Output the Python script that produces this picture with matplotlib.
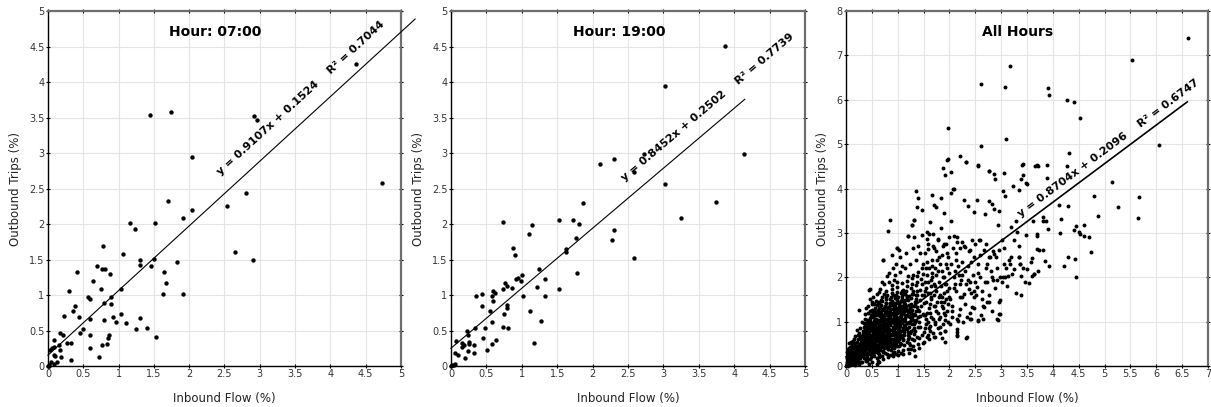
import matplotlib
matplotlib.use("Agg")
import matplotlib.pyplot as plt
import numpy as np
from matplotlib.ticker import FuncFormatter, MultipleLocator

# Hour 07:00 -> (inbound flow %, outbound trips %)
h07_points = [
    (1.45, 3.53), (1.74, 3.58), (2.92, 3.52), (2.96, 3.46), (4.36, 4.26), (4.73, 2.58),
    (2.04, 2.94), (1.70, 2.33), (1.91, 2.08), (2.04, 2.20), (2.53, 2.25), (2.81, 2.44),
    (2.65, 1.61), (2.90, 1.49), (1.16, 2.02), (1.23, 1.93), (1.51, 2.01), (0.78, 1.69),
    (1.06, 1.58), (1.50, 1.51), (1.31, 1.49), (1.30, 1.42), (1.46, 1.41), (1.83, 1.47),
    (1.64, 1.33), (1.67, 1.17), (1.63, 1.01), (1.91, 1.02), (0.41, 1.33), (0.69, 1.41),
    (0.76, 1.36), (0.81, 1.36), (0.64, 1.20), (0.88, 1.29), (0.30, 1.06), (0.75, 1.08),
    (0.57, 0.97), (0.60, 0.94), (0.89, 0.97), (1.03, 1.08), (0.79, 0.89), (0.89, 0.87),
    (0.38, 0.84), (0.36, 0.77), (0.23, 0.71), (0.44, 0.69), (0.59, 0.66), (0.80, 0.65),
    (0.92, 0.69), (1.03, 0.73), (0.97, 0.62), (1.10, 0.60), (1.31, 0.67), (1.24, 0.52),
    (1.40, 0.53), (1.53, 0.41), (0.49, 0.52), (0.46, 0.47), (0.59, 0.43), (0.87, 0.43),
    (0.85, 0.40), (0.83, 0.31), (0.77, 0.30), (0.59, 0.26), (0.73, 0.12), (0.17, 0.46),
    (0.21, 0.44), (0.09, 0.37), (0.27, 0.33), (0.33, 0.33), (0.15, 0.29), (0.09, 0.27),
    (0.06, 0.25), (0.03, 0.23), (0.17, 0.22), (0.08, 0.15), (0.10, 0.14), (0.19, 0.12),
    (0.33, 0.09), (0.04, 0.05), (0.13, 0.05), (0.08, 0.03), (0.01, 0.01), (0.00, 0.00),
    (0.02, 0.00),
]

# Hour 19:00
h19_points = [
    (3.87, 4.51), (3.02, 3.95), (4.14, 2.99), (3.75, 2.31), (3.25, 2.08), (3.02, 2.57),
    (2.58, 1.52), (2.72, 2.98), (2.58, 2.73), (2.30, 2.92), (2.11, 2.84), (2.30, 1.92),
    (2.27, 1.78), (1.86, 2.30), (1.72, 2.06), (1.81, 2.00), (1.53, 2.06), (1.76, 1.80),
    (1.62, 1.65), (1.62, 1.61), (1.78, 1.31), (1.52, 1.08), (0.73, 2.03), (1.15, 1.99),
    (1.10, 1.86), (0.87, 1.66), (0.91, 1.56), (1.25, 1.37), (1.01, 1.28), (0.99, 1.20),
    (0.92, 1.22), (0.94, 1.24), (1.33, 1.23), (0.76, 1.17), (0.79, 1.13), (0.73, 1.09),
    (0.86, 1.10), (1.21, 1.12), (0.59, 1.06), (0.62, 1.03), (0.58, 0.98), (0.44, 1.01),
    (0.35, 0.98), (1.02, 0.98), (1.33, 0.98), (0.60, 0.91), (0.44, 0.85), (0.79, 0.86),
    (0.79, 0.82), (0.55, 0.78), (1.12, 0.78), (0.75, 0.73), (0.58, 0.62), (1.27, 0.64),
    (0.73, 0.55), (0.80, 0.54), (0.34, 0.54), (0.48, 0.53), (0.23, 0.49), (0.24, 0.44),
    (0.45, 0.40), (0.64, 0.36), (0.58, 0.31), (1.17, 0.33), (0.07, 0.35), (0.15, 0.32),
    (0.18, 0.30), (0.25, 0.34), (0.25, 0.31), (0.33, 0.29), (0.15, 0.27), (0.51, 0.22),
    (0.24, 0.21), (0.06, 0.18), (0.10, 0.16), (0.32, 0.18), (0.20, 0.11), (0.04, 0.02),
    (0.02, 0.01), (0.05, 0.03), (0.00, 0.00),
]

# All hours: dense core near the origin
all_core = [
    (0.00, 0.00), (0.01, 0.02), (0.02, 0.05), (0.03, 0.01), (0.04, 0.12), (0.05, 0.08),
    (0.06, 0.21), (0.07, 0.03), (0.08, 0.15), (0.09, 0.28), (0.02, 0.17), (0.05, 0.34),
    (0.08, 0.43), (0.03, 0.24), (0.06, 0.52), (0.09, 0.06), (0.04, 0.39), (0.07, 0.11),
    (0.01, 0.09), (0.10, 0.22), (0.09, 0.55), (0.02, 0.31), (0.06, 0.16), (0.03, 0.07),
    (0.08, 0.36), (0.01, 0.04), (0.04, 0.02), (0.05, 0.19), (0.07, 0.29), (0.10, 0.12),
    (0.11, 0.05), (0.12, 0.18), (0.13, 0.31), (0.14, 0.42), (0.15, 0.09), (0.16, 0.23),
    (0.17, 0.37), (0.18, 0.51), (0.19, 0.14), (0.11, 0.27), (0.13, 0.57), (0.15, 0.62),
    (0.17, 0.03), (0.12, 0.47), (0.14, 0.11), (0.16, 0.33), (0.18, 0.25), (0.19, 0.44),
    (0.20, 0.07), (0.20, 0.31), (0.13, 0.38), (0.17, 0.19), (0.15, 0.48), (0.18, 0.68),
    (0.12, 0.09), (0.21, 0.12), (0.22, 0.28), (0.23, 0.45), (0.24, 0.61), (0.25, 0.75),
    (0.26, 0.05), (0.27, 0.20), (0.28, 0.38), (0.29, 0.52), (0.30, 0.67), (0.21, 0.82),
    (0.23, 0.16), (0.25, 0.33), (0.27, 0.49), (0.29, 0.10), (0.22, 0.55), (0.24, 0.24),
    (0.26, 0.41), (0.28, 0.86), (0.30, 0.30), (0.25, 1.27), (0.21, 0.40), (0.27, 0.64),
    (0.29, 0.27), (0.23, 0.71), (0.26, 0.18), (0.31, 0.08), (0.32, 0.22), (0.33, 0.37),
    (0.34, 0.50), (0.35, 0.66), (0.36, 0.81), (0.37, 0.95), (0.38, 0.14), (0.39, 0.30),
    (0.40, 0.45), (0.31, 0.58), (0.33, 0.72), (0.35, 0.88), (0.37, 1.05), (0.39, 0.60),
    (0.32, 0.42), (0.34, 0.18), (0.36, 0.33), (0.38, 0.75), (0.40, 0.90), (0.31, 1.00),
    (0.36, 1.18), (0.33, 0.28), (0.37, 0.52), (0.39, 0.11), (0.35, 0.40), (0.40, 0.25),
    (0.38, 1.30), (0.34, 0.98), (0.41, 0.12), (0.42, 0.28), (0.43, 0.44), (0.44, 0.60),
    (0.45, 0.77), (0.46, 0.93), (0.47, 1.08), (0.48, 1.24), (0.49, 0.20), (0.50, 0.36),
    (0.41, 0.52), (0.43, 0.68), (0.45, 0.84), (0.47, 1.01), (0.49, 1.16), (0.42, 1.35),
    (0.44, 1.71), (0.47, 1.73), (0.46, 0.15), (0.48, 0.55), (0.50, 0.70), (0.41, 0.98),
    (0.43, 1.20), (0.45, 0.30), (0.47, 0.47), (0.49, 0.82), (0.50, 1.44), (0.44, 0.05),
    (0.46, 1.52), (0.42, 0.88), (0.48, 0.38), (0.51, 0.10), (0.52, 0.26), (0.53, 0.43),
    (0.54, 0.58), (0.55, 0.74), (0.56, 0.91), (0.57, 1.06), (0.58, 1.22), (0.59, 1.37),
    (0.60, 0.18), (0.51, 0.34), (0.52, 0.50), (0.53, 0.66), (0.54, 0.83), (0.55, 0.98),
    (0.56, 1.14), (0.57, 1.30), (0.58, 1.46), (0.59, 0.62), (0.60, 0.78), (0.51, 0.94),
    (0.52, 1.10), (0.53, 1.56), (0.55, 0.22), (0.57, 0.38), (0.58, 0.70), (0.60, 1.00),
    (0.54, 1.25), (0.56, 0.46), (0.59, 0.05), (0.60, 1.62), (0.52, 0.72), (0.57, 0.86),
    (0.55, 1.40), (0.61, 0.12), (0.62, 0.30), (0.63, 0.48), (0.64, 0.66), (0.65, 0.84),
    (0.66, 1.02), (0.67, 1.20), (0.68, 1.38), (0.69, 1.56), (0.70, 0.22), (0.61, 0.40),
    (0.62, 0.58), (0.63, 0.76), (0.64, 0.94), (0.65, 1.12), (0.66, 1.30), (0.67, 1.48),
    (0.68, 0.50), (0.69, 0.68), (0.70, 0.86), (0.61, 1.04), (0.62, 1.22), (0.63, 1.66),
    (0.64, 0.20), (0.66, 0.36), (0.68, 0.92), (0.70, 1.10), (0.65, 1.74), (0.67, 0.60),
    (0.69, 1.28), (0.72, 2.38), (0.70, 1.90), (0.63, 0.08), (0.66, 0.80), (0.62, 1.45),
    (0.71, 0.16), (0.72, 0.34), (0.73, 0.52), (0.74, 0.70), (0.75, 0.88), (0.76, 1.06),
    (0.77, 1.24), (0.78, 1.42), (0.79, 1.60), (0.80, 0.26), (0.71, 0.44), (0.72, 0.62),
    (0.73, 0.80), (0.74, 0.98), (0.75, 1.16), (0.76, 1.34), (0.77, 1.52), (0.78, 1.70),
    (0.79, 0.54), (0.80, 0.72), (0.71, 0.90), (0.72, 1.08), (0.73, 1.26), (0.74, 1.85),
    (0.76, 0.30), (0.78, 0.96), (0.80, 1.14), (0.75, 0.60), (0.77, 0.42), (0.79, 1.32),
    (0.73, 1.62), (0.80, 2.02), (0.76, 0.78), (0.81, 0.20), (0.82, 0.38), (0.83, 0.56),
    (0.84, 0.74), (0.85, 0.92), (0.86, 1.10), (0.87, 1.28), (0.88, 1.46), (0.89, 1.64),
    (0.90, 0.30), (0.81, 0.48), (0.82, 0.66), (0.83, 0.84), (0.84, 1.02), (0.85, 1.20),
    (0.86, 1.38), (0.87, 1.56), (0.88, 1.74), (0.89, 0.60), (0.90, 0.78), (0.81, 0.96),
    (0.82, 1.14), (0.83, 1.32), (0.84, 1.90), (0.86, 0.24), (0.88, 1.00), (0.90, 1.20),
    (0.85, 0.50), (0.87, 0.70), (0.89, 1.82), (0.88, 2.50), (0.83, 2.10), (0.90, 2.20),
    (0.91, 0.22), (0.92, 0.40), (0.93, 0.58), (0.94, 0.76), (0.95, 0.94), (0.96, 1.12),
    (0.97, 1.30), (0.98, 1.48), (0.99, 1.66), (1.00, 0.34), (0.91, 0.52), (0.92, 0.70),
    (0.93, 0.88), (0.94, 1.06), (0.95, 1.24), (0.96, 1.42), (0.97, 1.60), (0.98, 1.78),
    (0.99, 0.62), (1.00, 0.82), (0.91, 1.00), (0.92, 1.18), (0.93, 1.36), (0.94, 2.05),
    (0.96, 0.28), (0.98, 1.02), (1.00, 1.22), (0.95, 0.46), (0.97, 0.68), (0.99, 1.90),
    (0.98, 2.66), (0.93, 1.95), (0.96, 2.30), (1.01, 0.24), (1.02, 0.44), (1.03, 0.62),
    (1.04, 0.80), (1.05, 0.98), (1.06, 1.16), (1.07, 1.34), (1.08, 1.52), (1.09, 1.70),
    (1.10, 0.36), (1.01, 0.56), (1.02, 0.74), (1.03, 0.92), (1.04, 1.10), (1.05, 1.28),
    (1.06, 1.46), (1.07, 1.64), (1.08, 1.88), (1.09, 0.66), (1.10, 0.86), (1.01, 1.04),
    (1.02, 1.22), (1.03, 1.40), (1.04, 2.12), (1.06, 0.30), (1.08, 1.06), (1.10, 1.26),
    (1.02, 2.61), (1.05, 2.45), (1.09, 2.25), (1.07, 0.50), (1.11, 0.26), (1.12, 0.48),
    (1.13, 0.70), (1.14, 0.92), (1.15, 1.14), (1.16, 1.36), (1.17, 1.58), (1.18, 1.80),
    (1.19, 2.02), (1.20, 0.38), (1.11, 0.60), (1.12, 0.82), (1.13, 1.04), (1.14, 1.26),
    (1.15, 1.48), (1.16, 1.70), (1.17, 1.92), (1.18, 0.54), (1.19, 0.76), (1.20, 0.98),
    (1.11, 1.20), (1.12, 1.42), (1.13, 1.64), (1.14, 2.20), (1.19, 2.94), (1.16, 2.55),
    (1.20, 1.12), (1.21, 0.30), (1.22, 0.52), (1.23, 0.74), (1.24, 0.96), (1.25, 1.18),
    (1.26, 1.40), (1.27, 1.62), (1.28, 1.84), (1.29, 2.06), (1.30, 0.44), (1.21, 0.66),
    (1.22, 0.88), (1.23, 1.10), (1.24, 1.32), (1.25, 1.54), (1.26, 1.76), (1.27, 1.98),
    (1.28, 0.60), (1.29, 0.82), (1.30, 1.04), (1.22, 1.26), (1.24, 2.30), (1.27, 3.18),
    (1.30, 2.65), (1.26, 0.38), (1.31, 0.36), (1.32, 0.58), (1.33, 0.80), (1.34, 1.02),
    (1.35, 1.24), (1.36, 1.46), (1.37, 1.68), (1.38, 1.90), (1.39, 2.12), (1.40, 0.50),
    (1.31, 0.72), (1.32, 0.94), (1.33, 1.16), (1.34, 1.38), (1.35, 1.60), (1.36, 1.82),
    (1.37, 2.04), (1.38, 0.66), (1.39, 0.88), (1.40, 1.10), (1.32, 3.30), (1.36, 2.40),
    (1.40, 2.70), (1.34, 0.22), (1.41, 0.40), (1.42, 0.64), (1.43, 0.88), (1.44, 1.12),
    (1.45, 1.36), (1.46, 1.60), (1.47, 1.84), (1.48, 2.08), (1.49, 0.52), (1.50, 0.76),
    (1.41, 1.00), (1.42, 1.24), (1.43, 1.48), (1.44, 1.72), (1.45, 1.96), (1.46, 2.20),
    (1.47, 0.70), (1.48, 1.18), (1.50, 1.42), (1.49, 2.30), (1.43, 2.55), (1.46, 2.95),
]

# All hours: extra points filling the darkest part of the cloud
all_core_fill = [
    (0.35, 0.55), (0.62, 0.71), (0.48, 0.93), (0.81, 0.63), (0.27, 0.37), (0.55, 0.45),
    (0.93, 1.13), (0.71, 0.97), (0.44, 0.33), (1.05, 0.91), (0.66, 0.52), (0.39, 0.71),
    (0.86, 1.27), (1.15, 1.02), (0.58, 1.07), (0.32, 0.47), (0.76, 0.68), (0.99, 0.87),
    (0.53, 0.29), (1.21, 1.37), (0.69, 1.14), (0.42, 0.62), (0.88, 0.82), (1.09, 1.21),
    (0.24, 0.33), (0.57, 0.64), (0.79, 1.05), (1.31, 1.18), (0.46, 0.81), (0.65, 0.39),
    (0.92, 0.97), (0.37, 0.26), (1.18, 0.83), (0.74, 1.31), (0.51, 0.55), (0.83, 0.44),
    (1.02, 1.33), (0.29, 0.58), (0.61, 0.89), (1.27, 0.94), (0.43, 0.49), (0.97, 0.53),
    (0.72, 0.77), (0.55, 1.19), (1.13, 1.47), (0.36, 0.86), (0.84, 1.08), (0.63, 0.26),
    (1.24, 1.12), (0.49, 0.67), (0.91, 1.41), (0.77, 0.49), (0.31, 0.37), (1.07, 0.69),
    (0.59, 0.97), (0.87, 0.36), (0.41, 1.03), (1.16, 1.29), (0.68, 0.63), (0.96, 0.74),
    (0.52, 0.41), (1.35, 1.52), (0.75, 1.19), (0.26, 0.49), (0.89, 1.17), (0.64, 1.41),
    (1.11, 0.58), (0.45, 0.57), (0.82, 0.91), (1.01, 1.55), (0.57, 0.31), (0.34, 0.64),
    (0.73, 0.41), (1.29, 1.68), (0.94, 0.64), (0.48, 1.11), (0.67, 0.85), (1.19, 0.71),
    (0.38, 0.46), (0.85, 1.52), (0.61, 0.56), (1.04, 1.02), (0.29, 0.22), (0.78, 1.43),
    (0.54, 0.78), (1.23, 0.47), (0.92, 1.29), (0.47, 0.39), (0.70, 1.03), (1.08, 1.36),
    (0.33, 0.80), (0.60, 0.34), (0.86, 0.56), (1.38, 1.33), (0.51, 1.27), (0.74, 0.57),
    (0.98, 1.19), (0.40, 0.19), (1.14, 1.62), (0.65, 0.93), (0.81, 1.19), (0.44, 0.95),
    (1.26, 1.04), (0.56, 0.58), (0.90, 0.47), (0.22, 0.26), (0.69, 1.46), (1.03, 0.78),
    (0.48, 0.27), (0.79, 0.83), (1.17, 1.14), (0.62, 1.26), (0.37, 0.58), (0.95, 1.53),
    (0.71, 0.31), (1.32, 0.86), (0.53, 0.88), (0.84, 0.67), (1.06, 1.46), (0.30, 0.44),
    (0.66, 0.69), (1.22, 1.58), (0.43, 0.77), (0.88, 1.38), (0.58, 0.48), (1.00, 0.95),
    (0.76, 0.97), (0.35, 0.32), (1.12, 0.93), (0.63, 0.81), (0.93, 0.31), (0.50, 1.39),
    (1.28, 1.27), (0.73, 1.13), (0.41, 0.53), (0.97, 1.07), (0.60, 0.68), (1.36, 1.04),
    (0.82, 1.31), (0.46, 0.64), (1.10, 1.71), (0.68, 0.43), (0.89, 0.72), (0.27, 0.29),
    (1.20, 0.60), (0.55, 1.01), (0.77, 1.56), (1.03, 0.64), (0.39, 0.39), (0.85, 0.97),
    (0.64, 0.51), (1.15, 1.40), (0.47, 1.23), (0.94, 0.86), (0.70, 0.66), (1.25, 0.78),
    (0.33, 0.51), (0.80, 1.21), (0.57, 0.72), (1.07, 1.13), (0.42, 0.30), (0.91, 1.61),
    (0.67, 1.05), (1.33, 1.44), (0.52, 0.62), (0.75, 0.44), (0.99, 1.28), (0.36, 0.70),
    (1.19, 1.21), (0.61, 1.14), (0.87, 0.61), (0.45, 0.47), (1.05, 0.51), (0.72, 0.89),
    (0.28, 0.68), (0.96, 0.93), (0.59, 0.36), (1.40, 1.26), (0.83, 1.11), (0.49, 0.50),
    (1.13, 0.76), (0.69, 0.73), (0.92, 1.22), (0.38, 0.97), (1.30, 1.63), (0.56, 0.92),
    (0.78, 0.62), (1.01, 0.71), (0.44, 0.72), (0.86, 1.42), (0.63, 0.61), (1.17, 0.97),
    (0.34, 0.41), (0.74, 1.02), (0.98, 0.45), (0.54, 0.69), (1.23, 1.31), (0.80, 0.77),
    (0.40, 0.83), (1.09, 0.99), (0.66, 1.22), (0.90, 0.89), (0.50, 0.33), (1.34, 0.99),
    (0.71, 0.52), (0.95, 1.36), (0.60, 0.79), (1.12, 1.25), (0.31, 0.29), (0.85, 0.81),
    (0.53, 1.17), (1.02, 0.85), (0.76, 1.36), (0.43, 0.58), (1.20, 1.48), (0.65, 0.47),
    (0.94, 0.56), (0.47, 0.85), (1.08, 1.58), (0.72, 0.98), (0.57, 0.51), (0.88, 1.04),
    (1.26, 1.21), (0.39, 0.52), (0.81, 0.39), (1.04, 1.24), (0.62, 0.99), (0.93, 0.79),
    (0.48, 0.60), (1.16, 0.86), (0.70, 1.26), (0.35, 0.42), (0.99, 1.45), (0.58, 0.84),
    (0.84, 0.52), (1.37, 1.60), (0.45, 0.38), (0.77, 0.91), (1.06, 0.80), (0.64, 1.33),
    (0.91, 1.06), (0.52, 0.76), (1.18, 1.55), (0.68, 0.58), (0.41, 0.68), (0.97, 1.01),
    (0.79, 0.71), (1.28, 1.11), (0.55, 0.37), (0.87, 1.18), (0.33, 0.60), (1.11, 1.34),
    (0.73, 0.67), (0.60, 1.21), (0.95, 0.68), (0.46, 0.45), (1.22, 0.99), (0.82, 1.01),
    (0.50, 0.96), (1.03, 1.42), (0.67, 0.78), (0.89, 0.42), (0.37, 0.77), (1.14, 1.09),
    (0.75, 0.81), (0.59, 0.59), (0.96, 1.21), (1.32, 1.36), (0.43, 0.89), (0.80, 0.54),
    (1.07, 0.97), (0.63, 0.69), (0.05, 0.10), (0.12, 0.15), (0.08, 0.22), (0.15, 0.20),
    (0.18, 0.12), (0.10, 0.30), (0.14, 0.26), (0.20, 0.18), (0.06, 0.06), (0.11, 0.10),
    (0.16, 0.14), (0.22, 0.22), (0.03, 0.14), (0.13, 0.07), (0.19, 0.30), (0.24, 0.15),
    (0.09, 0.19), (0.17, 0.27), (0.07, 0.25), (0.21, 0.35), (0.12, 0.34), (0.26, 0.28),
    (0.04, 0.05), (0.16, 0.05), (0.23, 0.09), (0.28, 0.18), (0.10, 0.41), (0.19, 0.40),
    (0.14, 0.50), (0.06, 0.40),
]

# All hours: sparser spread and outliers
all_spread = [
    (1.51, 0.55), (1.52, 0.85), (1.53, 1.15), (1.54, 1.45), (1.55, 1.75), (1.56, 2.05),
    (1.57, 2.35), (1.58, 0.70), (1.59, 1.00), (1.60, 1.30), (1.51, 1.60), (1.53, 1.90),
    (1.55, 2.20), (1.57, 1.20), (1.59, 1.65), (1.52, 2.55), (1.58, 2.75), (1.54, 0.95),
    (1.61, 0.60), (1.62, 0.90), (1.63, 1.20), (1.64, 1.50), (1.65, 1.80), (1.66, 2.10),
    (1.67, 2.40), (1.68, 0.75), (1.69, 1.05), (1.70, 1.35), (1.62, 1.65), (1.64, 1.95),
    (1.66, 2.25), (1.68, 2.70), (1.70, 1.85), (1.63, 3.24), (1.65, 1.10), (1.71, 0.65),
    (1.72, 1.00), (1.73, 1.35), (1.74, 1.70), (1.75, 2.05), (1.76, 2.40), (1.77, 0.85),
    (1.78, 1.20), (1.79, 1.55), (1.80, 1.90), (1.72, 2.20), (1.74, 2.60), (1.76, 1.45),
    (1.78, 2.85), (1.80, 1.05), (1.81, 0.75), (1.82, 1.10), (1.83, 1.45), (1.84, 1.80),
    (1.85, 2.15), (1.86, 2.50), (1.87, 0.95), (1.88, 1.30), (1.89, 1.65), (1.90, 2.00),
    (1.82, 2.30), (1.86, 1.55), (1.88, 2.70), (1.84, 3.10), (1.90, 1.20), (1.91, 0.80),
    (1.92, 1.15), (1.93, 1.50), (1.94, 1.85), (1.95, 2.20), (1.96, 2.55), (1.97, 1.00),
    (1.98, 1.40), (1.99, 1.75), (2.00, 2.10), (1.93, 2.75), (1.96, 1.25), (1.99, 2.90),
    (1.92, 0.55), (2.02, 0.95), (2.05, 1.35), (2.08, 1.75), (2.10, 2.15), (2.12, 2.55),
    (2.15, 2.90), (2.18, 1.15), (2.20, 1.55), (2.22, 1.95), (2.25, 2.35), (2.28, 2.70),
    (2.30, 1.40), (2.32, 1.85), (2.35, 2.25), (2.38, 2.60), (2.40, 1.20), (2.42, 1.65),
    (2.45, 2.05), (2.48, 2.45), (2.50, 1.90), (2.06, 2.65), (2.14, 1.05), (2.24, 2.05),
    (2.34, 1.10), (2.44, 2.85), (2.03, 2.30), (2.27, 1.00), (2.16, 2.25), (2.39, 1.90),
    (2.47, 1.30), (2.52, 1.60), (2.56, 2.10), (2.60, 2.50), (2.64, 1.35), (2.68, 1.90),
    (2.72, 2.30), (2.76, 1.60), (2.80, 2.15), (2.84, 2.60), (2.88, 1.75), (2.92, 2.20),
    (2.96, 1.45), (2.58, 2.85), (2.70, 2.75), (2.82, 1.25), (2.90, 2.45), (2.98, 2.00),
    (2.62, 1.15), (2.78, 2.45), (3.05, 2.65), (3.12, 1.80), (3.20, 2.45), (3.28, 1.65),
    (3.35, 2.70), (3.42, 2.20), (3.48, 2.95), (3.10, 2.20), (3.25, 2.85), (3.38, 1.60),
    (1.55, 1.05), (1.62, 1.40), (1.70, 1.60), (1.75, 1.25), (1.82, 1.60), (1.87, 2.00),
    (1.58, 1.90), (1.67, 2.00), (1.73, 0.95), (1.85, 1.35), (1.95, 1.70), (2.02, 1.50),
    (2.10, 1.85), (2.18, 2.05), (2.05, 1.10), (2.25, 1.55), (2.35, 1.95), (2.12, 2.40),
    (1.98, 2.45), (1.52, 1.70), (1.60, 2.20), (1.78, 2.15), (1.93, 2.30), (2.30, 2.15),
    (2.42, 2.35), (2.55, 2.30), (2.48, 1.70), (2.60, 2.00), (2.70, 2.20), (2.72, 1.45),
    (2.85, 1.95), (2.20, 2.65), (1.65, 1.55), (1.50, 1.15), (1.72, 1.80), (1.90, 1.45),
    (2.08, 2.00), (1.80, 2.45), (1.60, 0.85),
    (1.96, 4.65), (1.88, 4.47), (1.92, 4.31), (2.03, 4.37), (2.33, 4.59), (2.55, 4.51),
    (2.76, 4.40), (2.87, 4.33), (2.88, 4.21), (3.06, 4.35), (3.41, 4.54), (3.50, 4.11),
    (3.66, 4.50), (3.71, 4.51), (1.35, 3.94), (1.40, 3.78), (1.37, 3.58), (1.46, 3.52),
    (1.66, 3.86), (1.83, 3.79), (1.70, 3.63), (1.75, 3.58), (1.90, 3.46), (0.86, 3.30),
    (0.81, 3.05), (1.32, 3.30), (1.27, 3.18), (1.19, 2.94), (1.32, 2.91), (0.98, 2.66),
    (0.72, 2.38), (1.57, 3.02), (1.61, 2.97), (1.68, 2.98), (1.78, 2.86), (2.04, 3.26),
    (2.04, 3.91), (2.07, 3.98), (2.29, 3.74), (2.36, 3.61), (2.47, 3.47), (2.53, 3.75),
    (2.68, 3.43), (2.77, 3.73), (2.82, 3.66), (2.86, 3.54), (2.95, 3.49), (2.94, 3.18),
    (3.01, 2.83), (3.08, 3.83), (3.19, 3.13), (3.28, 3.28), (3.31, 3.02), (3.62, 3.26),
    (3.69, 2.94), (3.74, 2.61), (3.80, 3.28), (3.81, 2.61), (1.57, 2.87), (1.59, 2.64),
    (1.70, 2.66), (1.89, 2.76), (2.09, 2.92), (2.15, 2.79), (2.24, 2.79), (2.31, 2.68),
    (2.40, 2.61), (2.50, 2.74), (2.60, 2.83), (2.66, 2.61), (2.76, 2.45), (2.86, 2.53),
    (2.95, 2.61), (3.05, 2.30), (3.15, 2.38), (3.24, 2.19), (3.34, 2.45), (3.37, 2.30),
    (3.50, 2.19), (3.57, 2.34), (3.60, 2.04), (3.47, 1.89), (3.64, 2.08), (3.21, 2.08),
    (3.08, 2.00), (3.02, 1.89), (2.92, 1.93), (2.82, 2.00), (2.73, 1.89), (2.63, 1.70),
    (2.53, 1.78), (2.47, 1.55), (2.37, 1.74), (2.28, 1.63), (2.21, 1.85), (2.12, 1.70),
    (2.00, 1.55), (1.92, 1.85), (2.95, 1.18), (2.92, 1.07), (2.55, 1.03), (2.40, 1.07),
    (2.15, 0.84), (2.15, 0.69), (2.34, 0.65), (2.63, 1.52), (2.66, 1.33), (2.44, 1.33),
    (2.76, 1.44), (2.21, 1.29), (2.05, 1.25), (1.92, 1.03), (1.81, 0.88), (1.73, 0.65),
    (1.57, 0.65), (1.63, 0.80), (1.86, 0.64), (1.91, 0.79),
    (6.61, 7.40), (5.54, 6.90), (3.17, 6.77), (2.62, 6.36), (3.08, 6.28), (3.91, 6.26),
    (3.93, 6.12), (4.27, 6.00), (4.40, 5.94), (4.53, 5.59), (1.98, 5.36), (3.10, 5.11),
    (2.62, 4.97), (6.05, 4.99), (4.31, 4.80), (1.98, 4.66), (2.21, 4.73), (2.33, 4.60),
    (2.55, 4.52), (2.76, 4.39), (3.42, 4.55), (3.70, 4.52), (3.88, 4.52), (4.28, 4.51),
    (3.42, 4.30), (3.38, 4.21), (3.49, 4.13), (3.88, 4.23), (2.09, 4.00), (3.23, 4.06),
    (3.04, 3.94), (3.35, 3.96), (5.14, 4.15), (4.80, 3.84), (5.66, 3.81), (5.26, 3.59),
    (5.64, 3.34), (4.87, 3.38), (4.12, 3.62), (4.29, 3.60), (4.16, 3.31), (4.44, 3.16),
    (4.61, 3.17), (4.40, 3.06), (4.50, 3.01), (4.53, 2.98), (4.60, 2.93), (4.69, 2.90),
    (4.73, 2.58), (4.14, 3.00), (4.29, 2.45), (4.42, 2.41), (4.21, 2.25), (4.44, 2.01),
    (3.93, 2.25), (3.84, 2.37), (3.91, 3.08), (3.86, 3.27), (3.80, 3.36), (3.69, 2.98),
    (3.69, 2.64), (3.60, 2.44), (3.71, 2.14), (3.64, 2.08), (3.53, 1.88), (3.39, 2.02),
    (3.36, 2.31), (3.35, 2.45), (3.18, 2.31), (3.13, 2.03), (3.04, 2.00), (2.98, 1.48),
    (2.97, 1.18), (2.94, 1.04), (2.65, 1.07), (2.55, 1.01), (2.42, 1.07), (2.33, 0.64),
    (2.15, 0.68), (2.15, 0.77), (2.16, 1.01),
]

titles = ["Hour: 07:00", "Hour: 19:00", "All Hours"]
slopes = [0.9107, 0.8452, 0.8704]
intercepts = [0.1524, 0.2502, 0.2096]
r_squared = [0.7044, 0.7739, 0.6747]


def draw_panel(fig, rect, pts, i, xmax, ymax, ystep, line_end, text_xy, msize, lw):
    ax = fig.add_axes(rect)
    pts = np.array(pts)
    ax.set_xlim(0, xmax)
    ax.set_ylim(0, ymax)
    ax.xaxis.set_major_locator(MultipleLocator(0.5))
    ax.yaxis.set_major_locator(MultipleLocator(ystep))
    fmt = FuncFormatter(lambda v, p: "%g" % v)
    ax.xaxis.set_major_formatter(fmt)
    ax.yaxis.set_major_formatter(fmt)
    ax.grid(True, color="#e4e4e4", lw=0.8, zorder=0)
    ax.set_axisbelow(True)
    ax.tick_params(direction="inout", length=3, width=0.8, labelsize=7,
                   labelcolor="#333333", top=True, right=True, pad=1)
    for side in ["left", "bottom"]:
        ax.spines[side].set_color("black")
        ax.spines[side].set_linewidth(1.0)
    for side in ["top", "right"]:
        ax.spines[side].set_color("#6e6e6e")
        ax.spines[side].set_linewidth(1.6)

    ax.scatter(pts[:, 0], pts[:, 1], s=msize, c="black", lw=0, zorder=3, clip_on=False)

    # regression line
    lx = np.array([0.0, line_end])
    ly = slopes[i] * lx + intercepts[i]
    ax.plot(lx, ly, color="black", lw=lw, zorder=4, clip_on=False)

    # angle of the line on screen
    p0 = ax.transData.transform((0, intercepts[i]))
    p1 = ax.transData.transform((1, slopes[i] + intercepts[i]))
    angle = np.degrees(np.arctan2(p1[1] - p0[1], p1[0] - p0[0]))
    label = "y = %.4fx + %.4f    R\u00b2 = %.4f" % (slopes[i], intercepts[i], r_squared[i])
    ax.text(text_xy[0], text_xy[1], label, rotation=angle, rotation_mode="anchor",
            ha="left", va="baseline", fontsize=8, fontweight="bold", zorder=5)

    ax.text(0.475, 0.94, titles[i], transform=ax.transAxes, ha="center", va="center",
            fontsize=10, fontweight="bold")
    ax.set_xlabel("Inbound Flow (%)", fontsize=8.5, color="#222222", labelpad=9)
    ax.set_ylabel("Outbound Trips (%)", fontsize=8.5, color="#222222", labelpad=5)
    return ax


fig = plt.figure(figsize=(12.11, 4.07), dpi=100)
fig.patch.set_facecolor("white")

draw_panel(fig, [0.0396, 0.1007, 0.2915, 0.872], h07_points, 0,
           5, 5, 0.5, 5.2, (2.44, 2.68), 10, 0.8)
draw_panel(fig, [0.3724, 0.1007, 0.2923, 0.872], h19_points, 1,
           5, 5, 0.5, 4.15, (2.45, 2.60), 10, 0.8)
draw_panel(fig, [0.6986, 0.1007, 0.2989, 0.872], all_core + all_core_fill + all_spread, 2,
           7, 8, 1, 6.6, (3.38, 3.34), 8, 1.2)

fig.savefig("out.png", dpi=100)
